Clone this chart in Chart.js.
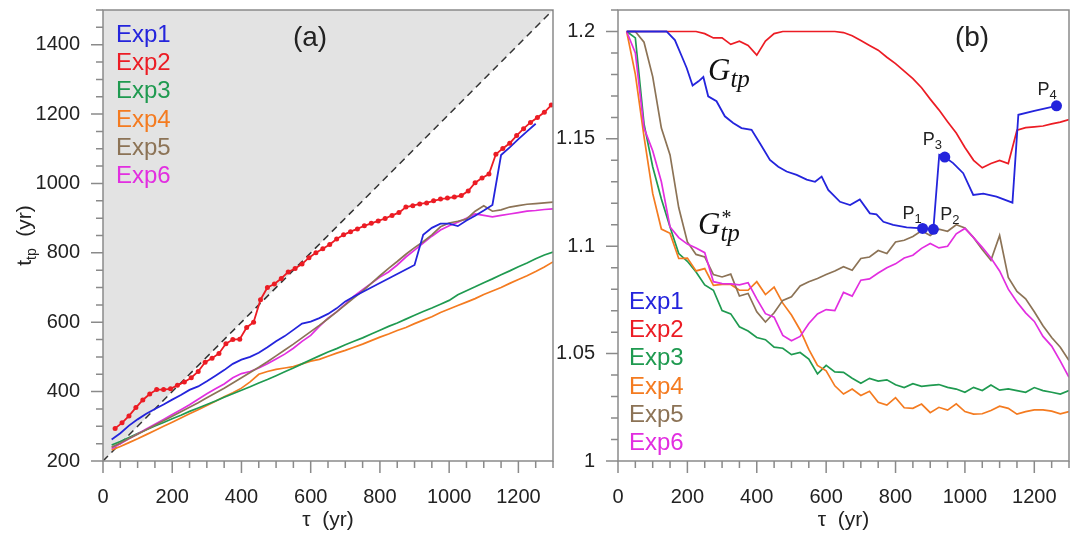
<!DOCTYPE html>
<html>
<head>
<meta charset="utf-8">
<script src="https://cdn.jsdelivr.net/npm/chart.js@4.4.1/dist/chart.umd.min.js"></script>
<style>
  html, body { margin: 0; padding: 0; background: #fff; }
  #wrap { position: relative; width: 1077px; height: 536px; overflow: hidden; }
  canvas { position: absolute; top: 0; }
  #chartA { left: 0; }
  #chartB { left: 550px; }
</style>
</head>
<body>
<div id="wrap">
  <canvas id="chartA" width="560" height="536"></canvas>
  <canvas id="chartB" width="527" height="536"></canvas>
</div>
<script>
// ---- data ----
const seriesNames = ['Exp1', 'Exp2', 'Exp3', 'Exp4', 'Exp5', 'Exp6'];

// tau (yr), shared sampling
const tau = [25, 50, 75, 100, 125, 150, 175, 200, 225, 250, 275, 300, 325, 350, 375, 400, 425, 450, 475, 500,
  525, 550, 575, 600, 625, 650, 675, 700, 725, 750, 775, 800, 825, 850, 875, 900, 925, 950, 975, 1000,
  1025, 1050, 1075, 1100, 1125, 1150, 1175, 1200, 1225, 1250, 1275, 1300];

// panel (a): t_tp (yr)
const ttpExp1 = [262, 280, 302, 320, 336, 350, 363, 377, 390, 405, 415, 430, 446, 462, 480, 492, 500, 512, 528, 545,
  560, 578, 596, 602, 612, 624, 640, 660, 674, 687, 700, 713, 726, 739, 752, 765, 852, 872, 884, 884,
  877, 893, 907, 922, 938, 1082, 1104, 1128, 1150, 1172, null, null];
// Exp2 is sampled more densely (dotted curve)
const tauExp2 = [35, 55, 75, 95, 115, 135, 155, 175, 195, 215, 235, 255, 275, 295, 315, 335, 355, 375, 395, 415,
  435, 455, 475, 495, 515, 535, 555, 575, 595, 615, 635, 655, 675, 695, 715, 735, 755, 775, 795, 815,
  835, 855, 875, 895, 915, 935, 955, 975, 995, 1015, 1035, 1055, 1075, 1095, 1115, 1135, 1155, 1175, 1195, 1215,
  1235, 1255, 1275, 1295];
const ttpExp2 = [294, 310, 330, 354, 376, 393, 406, 406, 408, 418, 428, 440, 458, 485, 496, 510, 538, 550, 551, 585,
  600, 665, 700, 710, 726, 745, 755, 768, 786, 800, 812, 824, 840, 852, 861, 869, 878, 885, 892, 899,
  908, 916, 932, 936, 941, 944, 950, 955, 958, 961, 965, 978, 1002, 1016, 1027, 1084, 1101, 1116, 1138, 1158,
  1176, 1190, 1205, 1226];
const ttpExp3 = [246, 256, 268, 279, 290, 301, 311, 322, 332, 343, 353, 363, 373, 384, 394, 404, 414, 425, 435, 446,
  457, 468, 480, 492, 503, 514, 524, 535, 545, 555, 566, 577, 588, 598, 609, 620, 631, 641, 652, 663,
  679, 691, 702, 714, 725, 737, 748, 760, 771, 783, 794, 802];
const ttpExp4 = [232, 242, 253, 264, 276, 288, 300, 312, 324, 336, 348, 360, 372, 385, 397, 410, 428, 450, 458, 464,
  468, 472, 480, 488, 493, 502, 511, 519, 528, 537, 547, 557, 566, 576, 585, 596, 606, 616, 628, 638,
  648, 658, 668, 680, 690, 700, 712, 723, 734, 746, 759, 774];
const ttpExp5 = [240, 252, 265, 277, 290, 303, 316, 329, 342, 355, 368, 382, 396, 410, 425, 440, 455, 470, 486, 503,
  520, 537, 555, 573, 591, 610, 630, 650, 670, 690, 712, 734, 755, 775, 796, 815, 832, 852, 875, 886,
  891, 897, 920, 936, 920, 924, 932, 936, 940, 942, 944, 946];
const ttpExp6 = [236, 250, 264, 278, 292, 306, 320, 334, 348, 362, 378, 394, 408, 422, 440, 452, 458, 468, 480, 494,
  508, 525, 545, 562, 588, 612, 630, 652, 675, 694, 712, 730, 745, 765, 788, 808, 828, 848, 866, 878,
  888, 900, 912, 908, 904, 908, 912, 916, 920, 922, 925, 927];
// diagonal t_tp = tau + 200
const diagTau = [0, 1300];
const diagT = [200, 1500];

// panel (b): Gtp (Exp1, own sampling) and G*tp
const tauG1 = [25, 50, 75, 100, 125, 140, 164, 185, 198, 215, 232, 246, 260, 284, 308, 332, 356, 385, 409, 438,
  462, 486, 515, 544, 568, 587, 606, 640, 669, 697, 726, 745, 765, 793, 832, 878, 909, 926, 942, 966,
  995, 1024, 1053, 1091, 1137, 1154, 1200, 1264];
const gExp1 = [1.2, 1.2, 1.2, 1.2, 1.2, 1.2, 1.196, 1.188, 1.183, 1.1748, 1.1768, 1.1788, 1.1698, 1.1675, 1.1605, 1.1574, 1.155, 1.1542, 1.148, 1.1402,
  1.137, 1.1348, 1.1332, 1.131, 1.13, 1.1324, 1.1262, 1.1207, 1.1192, 1.1218, 1.1153, 1.1148, 1.1114, 1.1099, 1.1088, 1.1083, 1.1079, 1.1426, 1.1415, 1.1387,
  1.134, 1.1239, 1.1245, 1.1231, 1.1203, 1.1612, 1.163, 1.1654];
const gExp2 = [1.2, 1.2, 1.2, 1.2, 1.2, 1.2, 1.2, 1.2, 1.2, 1.199, 1.197, 1.197, 1.194, 1.1955, 1.1935, 1.189, 1.1955, 1.199, 1.2, 1.2,
  1.2, 1.2, 1.2, 1.2, 1.2, 1.1995, 1.198, 1.1958, 1.1935, 1.1913, 1.188, 1.185, 1.1815, 1.178, 1.1738, 1.1685, 1.1635, 1.158, 1.1527, 1.146,
  1.14, 1.1365, 1.1385, 1.14, 1.1385, 1.154, 1.1552, 1.1556, 1.156, 1.157, 1.1578, 1.159];
const gExp3 = [1.2, 1.197, 1.157, 1.137, 1.122, 1.109, 1.0966, 1.093, 1.088, 1.082, 1.0795, 1.07, 1.0685, 1.0625, 1.0605, 1.0575, 1.0565, 1.053, 1.0525, 1.0495,
  1.0505, 1.0475, 1.0406, 1.0445, 1.0415, 1.0413, 1.0385, 1.0362, 1.0385, 1.0372, 1.0378, 1.0355, 1.0342, 1.036, 1.0348, 1.0352, 1.0356, 1.0343, 1.0335, 1.032,
  1.0343, 1.0328, 1.0354, 1.033, 1.0336, 1.0328, 1.032, 1.0342, 1.0328, 1.032, 1.0312, 1.0328];
const gExp4 = [1.2, 1.18, 1.151, 1.1246, 1.108, 1.106, 1.0943, 1.0945, 1.0885, 1.0896, 1.0818, 1.0822, 1.0822, 1.0795, 1.0795, 1.0835, 1.0775, 1.081, 1.0735, 1.068,
  1.061, 1.052, 1.0445, 1.042, 1.035, 1.0312, 1.0335, 1.0305, 1.0325, 1.0273, 1.026, 1.0295, 1.0248, 1.0245, 1.0265, 1.0225, 1.025, 1.0237, 1.0266, 1.023,
  1.0218, 1.022, 1.0235, 1.0255, 1.0245, 1.0218, 1.023, 1.0238, 1.0238, 1.0232, 1.022, 1.023];
const gExp5 = [1.2, 1.2, 1.195, 1.179, 1.155, 1.1425, 1.118, 1.102, 1.0962, 1.095, 1.0868, 1.0857, 1.087, 1.0768, 1.078, 1.0695, 1.0647, 1.069, 1.0748, 1.0765,
  1.0815, 1.0835, 1.085, 1.0868, 1.0885, 1.0905, 1.0888, 1.0943, 1.095, 1.098, 1.0966, 1.102, 1.1028, 1.1045, 1.1072, 1.105, 1.108, 1.107, 1.11, 1.1085,
  1.104, 1.0985, 1.0935, 1.105, 1.0855, 1.079, 1.0755, 1.0695, 1.063, 1.0575, 1.053, 1.0468];
const gExp6 = [1.2, 1.19, 1.155, 1.1445, 1.13, 1.109, 1.104, 1.101, 1.0992, 1.097, 1.0835, 1.0826, 1.0825, 1.082, 1.083, 1.0755, 1.0686, 1.067, 1.0585, 1.056,
  1.058, 1.064, 1.0685, 1.0705, 1.07, 1.0785, 1.0768, 1.0842, 1.0848, 1.0875, 1.09, 1.0918, 1.0945, 1.0958, 1.099, 1.1013, 1.0992, 1.1, 1.1058, 1.1083,
  1.104, 1.0995, 1.0945, 1.0885, 1.08, 1.074, 1.069, 1.065, 1.058, 1.0535, 1.0465, 1.039];
// marked points on Gtp of Exp1
const pTau = [878, 909, 942, 1264];
const pG = [1.1083, 1.1079, 1.1415, 1.1654];
const pNames = ['1', '2', '3', '4'];

// ---- styles ----
const colors = ['#2424dc', '#ec1c24', '#1f9a50', '#f47b20', '#8c7356', '#e22ee0'];
const fontFamily = '"Liberation Sans", Arial, sans-serif';
const serif = '"Liberation Serif", "DejaVu Serif", serif';
const textColor = '#222';

const pts = (xs, ys) => xs.map((x, i) => ({ x: x, y: ys[i] }));

function line(label, xs, ys, color, extra) {
  return Object.assign({
    label: label,
    data: pts(xs, ys),
    borderColor: color,
    backgroundColor: color,
    borderWidth: 1.7,
    pointRadius: 0,
    tension: 0,
    fill: false
  }, extra || {});
}

// frame + major/minor tick marks drawn from the chart scales
const frameTicks = {
  id: 'frameTicks',
  afterDraw(chart, args, o) {
    const { ctx, chartArea: a, scales } = chart;
    ctx.save();
    ctx.strokeStyle = '#8a8a8a';
    ctx.lineWidth = 1.5;
    ctx.strokeRect(a.left, a.top, a.right - a.left, a.bottom - a.top);
    ctx.beginPath();
    const isMajor = (v, m) => Math.abs(v / m - Math.round(v / m)) < 1e-6;
    const sx = scales.x, sy = scales.y;
    let n = Math.round((sx.max - sx.min) / o.xMinor);
    for (let i = 0; i <= n; i++) {
      const v = sx.min + i * o.xMinor;
      const p = sx.getPixelForValue(v);
      ctx.moveTo(p, a.bottom);
      ctx.lineTo(p, a.bottom + (isMajor(v, o.xMajor) ? 12 : 7));
    }
    n = Math.round((sy.max - sy.min) / o.yMinor);
    for (let i = 0; i <= n; i++) {
      const v = sy.min + i * o.yMinor;
      const p = sy.getPixelForValue(v);
      ctx.moveTo(a.left, p);
      ctx.lineTo(a.left - (isMajor(v - o.yBase, o.yMajor) ? 12 : 7), p);
    }
    ctx.stroke();
    ctx.restore();
  }
};

function drawLegend(ctx, x, y0) {
  ctx.font = '24px ' + fontFamily;
  ctx.textAlign = 'left';
  ctx.textBaseline = 'alphabetic';
  seriesNames.forEach((n, i) => {
    ctx.fillStyle = colors[i];
    ctx.fillText(n, x, y0 + i * 28.2);
  });
}

function subText(ctx, x, y, base, sub, baseFont, subFont, drop) {
  ctx.font = baseFont;
  ctx.fillText(base, x, y);
  const w = ctx.measureText(base).width;
  ctx.font = subFont;
  ctx.fillText(sub, x + w, y + drop);
  return w + ctx.measureText(sub).width;
}

function scaleOpts(min, max, step, size, pad, fmt, title) {
  return {
    type: 'linear',
    min: min,
    max: max,
    afterFit: s => {
      if (s.isHorizontal()) s.height = size; else s.width = size;
      // keep the plot area fixed: no extra room for edge labels
      s.paddingTop = 0; s.paddingBottom = 0; s.paddingLeft = 0; s.paddingRight = 0;
    },
    grid: { display: false, drawTicks: false },
    border: { display: false },
    ticks: {
      stepSize: step, includeBounds: false, padding: pad, autoSkip: false, maxRotation: 0,
      font: { family: fontFamily, size: 20 }, color: textColor,
      callback: fmt
    },
    title: title ? {
      display: true, text: title, color: textColor,
      font: { family: fontFamily, size: 21 }, padding: { top: 0, bottom: 3 }
    } : { display: false }
  };
}

// ---- panel (a) ----
const labelsA = {
  id: 'labelsA',
  afterDraw(chart) {
    const { ctx, chartArea: a } = chart;
    ctx.save();
    drawLegend(ctx, a.left + 13, a.top + 32);
    ctx.fillStyle = textColor;
    ctx.font = '28px ' + fontFamily;
    ctx.textAlign = 'center';
    ctx.textBaseline = 'middle';
    ctx.fillText('(a)', a.left + 207, a.top + 28);
    // y axis title with subscript
    ctx.translate(24, (a.top + a.bottom) / 2);
    ctx.rotate(-Math.PI / 2);
    ctx.textAlign = 'left';
    ctx.textBaseline = 'alphabetic';
    const f1 = '21px ' + fontFamily, f2 = '14px ' + fontFamily;
    ctx.font = f1; const w1 = ctx.measureText('t').width + ctx.measureText('  (yr)').width;
    ctx.font = f2; const w2 = ctx.measureText('tp').width;
    const x0 = -(w1 + w2) / 2;
    const w = subText(ctx, x0, 7, 't', 'tp', f1, f2, 5);
    ctx.font = f1;
    ctx.fillText('  (yr)', x0 + w, 7);
    ctx.restore();
  }
};

new Chart(document.getElementById('chartA'), {
  type: 'line',
  data: {
    datasets: [
      line(seriesNames[1], tauExp2, ttpExp2, colors[1], { borderWidth: 1.8, pointRadius: 2.5, pointBorderWidth: 0, pointBackgroundColor: colors[1] }),
      line(seriesNames[0], tau, ttpExp1, colors[0], { borderWidth: 1.8 }),
      line(seriesNames[4], tau, ttpExp5, colors[4]),
      line(seriesNames[5], tau, ttpExp6, colors[5]),
      line(seriesNames[2], tau, ttpExp3, colors[2]),
      line(seriesNames[3], tau, ttpExp4, colors[3]),
      {
        label: 'diagonal', data: pts(diagTau, diagT), borderColor: '#333', borderWidth: 1.5,
        borderDash: [7, 5], pointRadius: 0, fill: 'end', backgroundColor: '#e3e3e3', order: 10
      }
    ]
  },
  options: {
    responsive: false,
    animation: false,
    layout: { padding: { top: 10, right: 7, left: 0, bottom: 0 } },
    plugins: {
      legend: { display: false },
      tooltip: { enabled: false },
      frameTicks: { xMinor: 50, xMajor: 200, yMinor: 50, yMajor: 200, yBase: 0 }
    },
    scales: {
      x: scaleOpts(0, 1300, 200, 75, 24, v => String(v), 'τ  (yr)'),
      y: scaleOpts(200, 1500, 200, 103, 23, v => String(v), null)
    }
  },
  plugins: [frameTicks, labelsA]
});

// ---- panel (b) ----
const labelsB = {
  id: 'labelsB',
  afterDraw(chart) {
    const { ctx, chartArea: a, scales } = chart;
    ctx.save();
    drawLegend(ctx, a.left + 11, a.top + 299);
    ctx.fillStyle = textColor;
    ctx.font = '28px ' + fontFamily;
    ctx.textAlign = 'center';
    ctx.textBaseline = 'middle';
    ctx.fillText('(b)', a.left + 354, a.top + 28);
    ctx.textAlign = 'left';
    ctx.textBaseline = 'alphabetic';
    ctx.fillStyle = '#111';
    const gF = 'italic 31px ' + serif, sF = 'italic 25px ' + serif;
    subText(ctx, a.left + 90, a.top + 70, 'G', 'tp', gF, sF, 7);
    ctx.font = gF;
    const gw = ctx.measureText('G').width;
    subText(ctx, a.left + 80, a.top + 224, 'G', 'tp', gF, sF, 7);
    ctx.font = '20px ' + serif;
    ctx.fillText('*', a.left + 80 + gw + 1, a.top + 214);
    // P labels
    const offX = [-20, 7, -22, -19], offY = [-9, -9, -12, -11];
    ctx.fillStyle = textColor;
    pTau.forEach((t, i) => {
      const px = scales.x.getPixelForValue(t), py = scales.y.getPixelForValue(pG[i]);
      subText(ctx, px + offX[i], py + offY[i], 'P', pNames[i], '18px ' + fontFamily, '13px ' + fontFamily, 4);
    });
    ctx.restore();
  }
};

new Chart(document.getElementById('chartB'), {
  type: 'line',
  data: {
    datasets: [
      line('P', pTau, pG, colors[0], { showLine: false, pointRadius: 5.5, pointBorderWidth: 0, pointBackgroundColor: colors[0] }),
      line(seriesNames[0], tauG1, gExp1, colors[0], { borderWidth: 1.8 }),
      line(seriesNames[1], tau, gExp2, colors[1]),
      line(seriesNames[5], tau, gExp6, colors[5]),
      line(seriesNames[4], tau, gExp5, colors[4]),
      line(seriesNames[3], tau, gExp4, colors[3]),
      line(seriesNames[2], tau, gExp3, colors[2])
    ]
  },
  options: {
    responsive: false,
    animation: false,
    layout: { padding: { top: 10, right: 8, left: 0, bottom: 0 } },
    plugins: {
      legend: { display: false },
      tooltip: { enabled: false },
      frameTicks: { xMinor: 50, xMajor: 200, yMinor: 0.01, yMajor: 0.05, yBase: 1 }
    },
    scales: {
      x: scaleOpts(0, 1300, 200, 75, 24, v => String(v), 'τ  (yr)'),
      y: scaleOpts(1, 1.21, 0.05, 68, 23, v => String(+v.toFixed(2)), null)
    }
  },
  plugins: [frameTicks, labelsB]
});
</script>
</body>
</html>
